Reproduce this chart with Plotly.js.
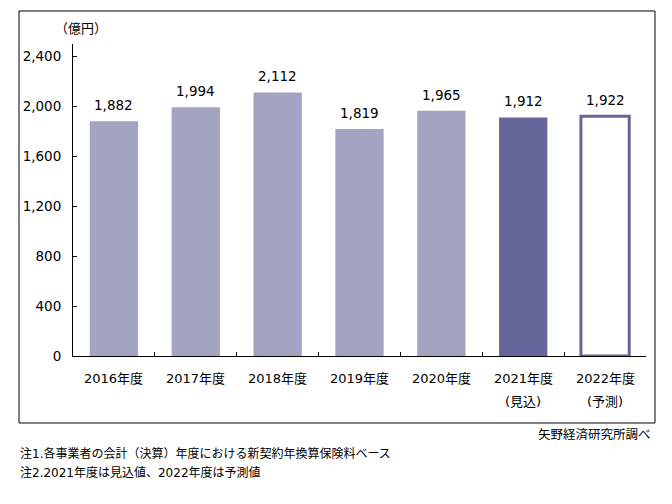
<!DOCTYPE html>
<html>
<head>
<meta charset="utf-8">
<script src="https://cdn.plot.ly/plotly-3.0.1.min.js"></script>
<style>html,body{margin:0;padding:0;background:#fff;}#chart{width:672px;height:504px;}</style>
</head>
<body>
<div id="chart"></div>
<script>
const categories = ["2016年度", "2017年度", "2018年度", "2019年度", "2020年度", "2021年度", "2022年度"];
const subLabels = ["", "", "", "", "", "(見込)", "(予測)"];
const values = [1882, 1994, 2112, 1819, 1965, 1912, 1922];
const labels = ["1,882", "1,994", "2,112", "1,819", "1,965", "1,912", "1,922"];
const fillColors = ["#A3A3C2", "#A3A3C2", "#A3A3C2", "#A3A3C2", "#A3A3C2", "#66669A", "#FFFFFF"];
const lineWidths = [0, 0, 0, 0, 0, 0, 3];
const yTicks = [0, 400, 800, 1200, 1600, 2000, 2400];
const yTickText = ["0", "400", "800", "1,200", "1,600", "2,000", "2,400"];
const unitLabel = "（億円）";
const note1 = "注1.各事業者の会計（決算）年度における新契約年換算保険料ベース";
const note2 = "注2.2021年度は見込値、2022年度は予測値";
const source = "矢野経済研究所調べ";

const FONT = "'DejaVu Sans', 'Noto Sans CJK JP', sans-serif";

const trace = {
  type: "bar",
  x: categories,
  y: values,
  width: 0.59,
  marker: {color: fillColors, line: {color: "#66669A", width: lineWidths}},
  hoverinfo: "none"
};

const annotations = categories.map((c, i) => ({
  x: c, y: values[i], xref: "x", yref: "y",
  text: labels[i], showarrow: false, yanchor: "bottom", yshift: 6,
  font: {family: FONT, size: 13.5, color: "#000"}
}));
categories.forEach((c, i) => {
  annotations.push({x: c, xref: "x", yref: "paper", y: -0.0737, yanchor: "middle",
    text: c, showarrow: false, font: {family: FONT, size: 13, color: "#000"}});
  if (subLabels[i]) {
    annotations.push({x: c, xref: "x", yref: "paper", y: -0.147, yanchor: "middle",
      text: subLabels[i], showarrow: false, font: {family: FONT, size: 13, color: "#000"}});
  }
});
annotations.push(
  {xref: "paper", yref: "paper", x: 0.014, y: 1.051, xanchor: "center", yanchor: "middle",
   text: unitLabel, showarrow: false, font: {family: FONT, size: 13, color: "#000"}},
  {xref: "paper", yref: "paper", x: -0.096, y: -0.314, xanchor: "left", yanchor: "middle",
   text: note1, showarrow: false, font: {family: FONT, size: 12, color: "#000"}},
  {xref: "paper", yref: "paper", x: -0.096, y: -0.372, xanchor: "left", yanchor: "middle",
   text: note2, showarrow: false, font: {family: FONT, size: 12, color: "#000"}},
  {xref: "paper", yref: "paper", x: 1.013, y: -0.253, xanchor: "right", yanchor: "middle",
   text: source, showarrow: false, font: {family: FONT, size: 12.5, color: "#000"}}
);

const layout = {
  width: 672, height: 504,
  margin: {l: 73, r: 26, t: 44, b: 148},
  paper_bgcolor: "#fff", plot_bgcolor: "#fff",
  showlegend: false,
  font: {family: FONT, size: 13, color: "#000"},
  xaxis: {
    type: "category",
    showline: true, linecolor: "#000", linewidth: 1,
    ticks: "inside", ticklen: 4, tickcolor: "#000", tickson: "boundaries",
    showgrid: false, zeroline: false,
    showticklabels: false
  },
  yaxis: {
    range: [0, 2500],
    tickvals: yTicks, ticktext: yTickText,
    showline: true, linecolor: "#000", linewidth: 1,
    ticks: "inside", ticklen: 4, tickcolor: "#000",
    showgrid: false, zeroline: false,
    ticklabelstandoff: 8,
    tickfont: {family: FONT, size: 13.5, color: "#000"}
  },
  shapes: [{
    type: "rect", xref: "paper", yref: "paper",
    x0: -0.0942, x1: 1.0157, y0: -0.2147, y1: 1.1058,
    line: {color: "#000", width: 1}, fillcolor: "rgba(0,0,0,0)"
  }],
  annotations: annotations
};

Plotly.newPlot("chart", [trace], layout, {displayModeBar: false, staticPlot: true});
</script>
</body>
</html>
